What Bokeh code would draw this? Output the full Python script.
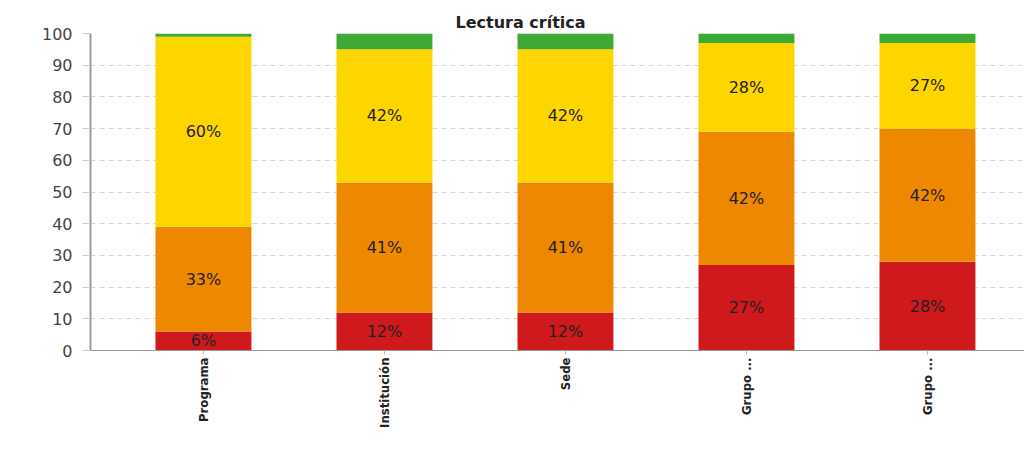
import math
from bokeh.plotting import figure
from bokeh.models import ColumnDataSource, Range1d, FixedTicker, Legend, LegendItem
from bokeh.core.properties import value
from bokeh.embed import file_html
from bokeh.resources import INLINE

categories = ["Programa", "Institución", "Sede", "Grupo ...", "Grupo ..."]
levels = ["1", "2", "3", "4"]
n1 = [6, 12, 12, 27, 28]
n2 = [33, 41, 41, 42, 42]
n3 = [60, 42, 42, 28, 27]
n4 = [1, 5, 5, 3, 3]
colors = ["#D0191C", "#EE8800", "#FFD500", "#3EAA36"]
y_ticks = [0, 10, 20, 30, 40, 50, 60, 70, 80, 90, 100]

xs = list(range(len(categories)))
src = ColumnDataSource(dict(x=xs, s1=n1, s2=n2, s3=n3, s4=n4))

p = figure(frame_width=934, frame_height=317, output_backend="svg", toolbar_location=None,
           x_range=Range1d(-0.624, 4.536), y_range=Range1d(0, 100),
           min_border_left=90, min_border_right=0, min_border_top=33,
           min_border_bottom=0)

rs = p.vbar_stack(["s1", "s2", "s3", "s4"], x="x", width=0.53, source=src,
                  color=colors, line_color=None)

# segment labels
lx, ly, lt = [], [], []
for i in xs:
    base = 0
    for v in (n1[i], n2[i], n3[i]):
        lx.append(i)
        ly.append(base + v / 2)
        lt.append(f"{v}%")
        base += v
lsrc = ColumnDataSource(dict(x=lx, y=ly, t=lt))
p.text(x="x", y="y", text="t", source=lsrc, text_align="center", text_baseline="middle",
       text_font=value("DejaVu Sans"), text_font_size="16px", text_color="#222222")

p.title.text = "Lectura crítica"
p.title.align = "left"
p.title.offset = 365
p.title.standoff = 4
p.title.text_font = "DejaVu Sans"
p.title.text_font_size = "16px"
p.title.text_font_style = "bold"
p.title.text_color = "#222222"

p.xgrid.grid_line_color = None
p.ygrid.grid_line_color = "#d8d8d8"
p.ygrid.grid_line_dash = "5 4"
p.ygrid.ticker = FixedTicker(ticks=y_ticks)

p.yaxis.ticker = FixedTicker(ticks=y_ticks)
p.yaxis.axis_line_color = "#999999"
p.yaxis.axis_line_width = 2
p.yaxis.major_tick_line_color = "#cccccc"
p.yaxis.major_tick_out = 8
p.yaxis.major_tick_in = 0
p.yaxis.minor_tick_line_color = None
p.yaxis.major_label_text_font = "DejaVu Sans"
p.yaxis.major_label_text_font_size = "16px"
p.yaxis.major_label_text_color = "#444444"
p.yaxis.major_label_standoff = 10

p.xaxis.ticker = FixedTicker(ticks=xs)
p.xaxis.major_label_overrides = {i: c for i, c in enumerate(categories)}
p.xaxis.major_label_orientation = math.pi / 2
p.xaxis.axis_line_color = "#999999"
p.xaxis.major_tick_line_color = "#bbbbbb"
p.xaxis.major_tick_out = 4
p.xaxis.major_tick_in = 0
p.xaxis.minor_tick_line_color = None
p.xaxis.major_label_text_font = "DejaVu Sans Condensed"
p.xaxis.major_label_text_font_size = "13px"
p.xaxis.major_label_text_font_style = "bold"
p.xaxis.major_label_text_color = "#222222"
p.xaxis.major_label_standoff = 3

legend = Legend(items=[LegendItem(label=l, renderers=[r]) for l, r in zip(levels, rs)],
                orientation="horizontal", location="top_center",
                border_line_color=None, background_fill_alpha=0,
                glyph_width=14, glyph_height=12, label_height=14,
                label_standoff=20, spacing=22,
                label_width=12, padding=2, margin=4,
                label_text_font="DejaVu Sans", label_text_font_size="15px",
                label_text_color="#555555")
p.add_layout(legend, "below")
p.outline_line_color = None

open("out.html", "w").write(file_html(p, INLINE))
